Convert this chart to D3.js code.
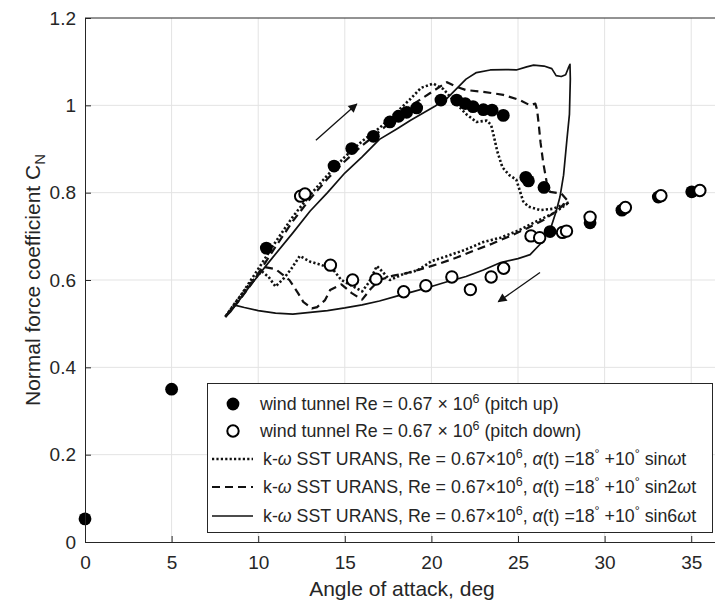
<!DOCTYPE html>
<html><head><meta charset="utf-8">
<script src="https://cdn.jsdelivr.net/npm/d3@7"></script>
<style>
body{margin:0;background:#fff}
svg{display:block}
text{font-family:"Liberation Sans",Arial,Helvetica,sans-serif;fill:#262626}
</style>
</head><body>
<svg id="chart" width="715" height="601"></svg>
<script>
// Wind tunnel measurements, pitch up (filled) and pitch down (open)
const upAlpha = [0, 5, 10.47, 14.38, 15.4, 16.65, 17.6, 18.1, 18.57, 19.15, 20.55, 21.46, 21.95, 22.4, 23.0, 23.5, 24.15, 25.45, 25.6, 26.5, 26.85, 29.16, 31.0, 33.1, 35.03];
const upCn    = [0.053, 0.35, 0.673, 0.861, 0.901, 0.929, 0.962, 0.975, 0.984, 0.994, 1.012, 1.012, 1.004, 0.997, 0.99, 0.989, 0.977, 0.835, 0.827, 0.812, 0.711, 0.731, 0.760, 0.79, 0.802];
const downAlpha = [12.45, 12.7, 14.17, 15.45, 16.8, 18.4, 19.68, 21.18, 22.25, 23.45, 24.17, 25.75, 26.25, 27.57, 27.8, 29.16, 31.2, 33.25, 35.5];
const downCn    = [0.792, 0.797, 0.634, 0.600, 0.602, 0.573, 0.587, 0.607, 0.578, 0.607, 0.627, 0.701, 0.697, 0.709, 0.712, 0.744, 0.766, 0.793, 0.805];

// k-omega SST URANS hysteresis loops, alpha(t) = 18 + 10 sin(k w t)
const sin1Alpha = [8.1, 9, 10, 11, 12, 13, 14, 15, 16, 17, 18, 18.8, 19.4, 20.1, 20.7, 21.3, 22.0, 22.6, 23.2, 23.45, 23.6, 23.8, 24.1, 24.5, 24.9, 25.1, 25.3, 25.6, 26.3, 27.0, 27.6, 27.95,
  27.5, 27.0, 26.0, 25.0, 24.0, 23.0, 22.0, 21.0, 20.0, 19.2, 18.4, 17.6, 17.2, 16.85, 16.4, 16.0, 15.5, 14.8, 14.3, 13.6, 13.0, 12.4, 11.9, 11.5, 11.0, 10.6, 10.2, 9.5, 8.8, 8.1];
const sin1Cn = [0.516, 0.565, 0.625, 0.687, 0.745, 0.795, 0.84, 0.882, 0.918, 0.948, 0.985, 1.015, 1.04, 1.05, 1.037, 1.01, 0.98, 0.962, 0.965, 0.955, 0.93, 0.895, 0.858, 0.84, 0.83, 0.805, 0.78, 0.768, 0.76, 0.763, 0.772, 0.778,
  0.765, 0.752, 0.733, 0.713, 0.697, 0.687, 0.67, 0.656, 0.643, 0.622, 0.614, 0.60, 0.618, 0.632, 0.595, 0.574, 0.585, 0.60, 0.625, 0.635, 0.642, 0.655, 0.625, 0.605, 0.585, 0.607, 0.62, 0.59, 0.555, 0.516];

const sin2Alpha = [8.1, 9, 10, 11, 12, 13, 14, 15, 16, 17, 18, 19, 20, 20.9, 21.4, 22.0, 23.0, 24.15, 25.1, 25.7, 26.0, 26.1, 26.2, 26.3, 26.45, 26.65, 26.85, 27.5, 27.85,
  27.3, 26.5, 25.5, 24.5, 23.5, 22.5, 21.5, 20.5, 19.5, 18.5, 17.8, 17.0, 16.5, 16.0, 15.4, 14.8, 14.15, 13.86, 13.4, 13.1, 12.6, 12.3, 11.8, 11.0, 10.3, 9.5, 8.8, 8.1];
const sin2Cn = [0.516, 0.558, 0.615, 0.676, 0.735, 0.786, 0.832, 0.872, 0.908, 0.94, 0.974, 1.004, 1.03, 1.053, 1.043, 1.035, 1.031, 1.024, 1.012, 1.0, 1.004, 0.99, 0.955, 0.915, 0.87, 0.825, 0.802, 0.798, 0.782,
  0.76, 0.738, 0.718, 0.70, 0.683, 0.668, 0.652, 0.638, 0.626, 0.615, 0.61, 0.60, 0.58, 0.555, 0.57, 0.59, 0.577, 0.554, 0.538, 0.535, 0.55, 0.57, 0.60, 0.625, 0.63, 0.585, 0.548, 0.516];

const sin6Alpha = [8.1, 8.4, 9.5, 10.7, 12.0, 13.0, 14.0, 15.0, 16.0, 17.0, 18.0, 18.8, 19.5, 20.2, 20.9, 21.5, 22.0, 22.6, 23.4, 24.3, 24.9, 25.5, 25.9, 26.5, 26.95, 27.2, 27.5, 27.75, 27.9, 28.0,
  28.02, 27.97, 27.82, 27.63, 27.42, 27.2, 26.9, 26.3, 25.7, 25.0, 24.0, 23.0, 22.0, 21.0, 20.0, 19.0, 18.0, 17.0, 16.0, 15.0, 14.0, 13.0, 12.0, 11.0, 10.0, 9.2, 8.7, 8.4, 8.1];
const sin6Cn = [0.515, 0.527, 0.585, 0.645, 0.708, 0.758, 0.80, 0.845, 0.882, 0.922, 0.946, 0.966, 0.982, 0.998, 1.016, 1.04, 1.06, 1.075, 1.081, 1.082, 1.081, 1.088, 1.092, 1.09, 1.084, 1.068, 1.066, 1.07, 1.085, 1.094,
  1.06, 0.98, 0.92, 0.84, 0.79, 0.757, 0.72, 0.683, 0.658, 0.649, 0.64, 0.623, 0.608, 0.597, 0.585, 0.574, 0.563, 0.552, 0.543, 0.536, 0.530, 0.526, 0.522, 0.524, 0.53, 0.537, 0.542, 0.532, 0.515];

// Direction arrows (start, end) in data units
const arrowUp   = [[13.33, 0.92], [15.69, 1.003]];
const arrowDown = [[26.27, 0.617], [23.86, 0.55]];

const xTicks = [0, 5, 10, 15, 20, 25, 30, 35];
const yTicks = [0, 0.2, 0.4, 0.6, 0.8, 1.0, 1.2];
const yTickLabels = ["0", "0.2", "0.4", "0.6", "0.8", "1", "1.2"];

const svg = d3.select("#chart");
const ink = "#262626";

const x = d3.scaleLinear().domain([0, 36.5]).range([85, 717.2]);
const y = d3.scaleLinear().domain([0, 1.2]).range([542, 18]);

// grid
const grid = svg.append("g");
grid.selectAll("line.gx").data(xTicks.slice(1)).join("line")
  .attr("x1", d => x(d)).attr("x2", d => x(d)).attr("y1", y(0)).attr("y2", y(1.2))
  .attr("stroke", "#e3e3e3").attr("stroke-width", 1);
grid.selectAll("line.gy").data(yTicks.slice(1, -1)).join("line")
  .attr("x1", x(0)).attr("x2", x(36.5)).attr("y1", d => y(d)).attr("y2", d => y(d))
  .attr("stroke", "#e3e3e3").attr("stroke-width", 1);

// simulation loops
const line = d3.line().x(d => x(d[0])).y(d => y(d[1]));
const zip = (a, b) => a.map((v, i) => [v, b[i]]);
const styles = {
  sin1: {dash: "2.2,2.2", width: 2.6},
  sin2: {dash: "8,5", width: 2.2},
  sin6: {dash: null, width: 1.7}
};
[[sin1Alpha, sin1Cn, styles.sin1], [sin2Alpha, sin2Cn, styles.sin2], [sin6Alpha, sin6Cn, styles.sin6]].forEach(([a, c, s]) => {
  svg.append("path").datum(zip(a, c)).attr("d", line)
    .attr("fill", "none").attr("stroke", "#111").attr("stroke-width", s.width)
    .attr("stroke-dasharray", s.dash).attr("stroke-linejoin", "round");
});

// measurements
svg.append("g").selectAll("circle").data(zip(upAlpha, upCn)).join("circle")
  .attr("cx", d => x(d[0])).attr("cy", d => y(d[1])).attr("r", 6.4).attr("fill", "#000");
svg.append("g").selectAll("circle").data(zip(downAlpha, downCn)).join("circle")
  .attr("cx", d => x(d[0])).attr("cy", d => y(d[1])).attr("r", 5.7)
  .attr("fill", "#fff").attr("stroke", "#000").attr("stroke-width", 2);

// arrows
svg.append("defs").append("marker").attr("id", "head")
  .attr("viewBox", "0 0 10 10").attr("refX", 9).attr("refY", 5)
  .attr("markerWidth", 11).attr("markerHeight", 9).attr("markerUnits", "userSpaceOnUse")
  .attr("orient", "auto")
  .append("path").attr("d", "M0,0L10,5L0,10Z").attr("fill", "#111");
[arrowUp, arrowDown].forEach(a => {
  svg.append("line")
    .attr("x1", x(a[0][0])).attr("y1", y(a[0][1])).attr("x2", x(a[1][0])).attr("y2", y(a[1][1]))
    .attr("stroke", "#111").attr("stroke-width", 1.3).attr("marker-end", "url(#head)");
});

// axes (ticks point inward)
const xAxis = svg.append("g").attr("transform", `translate(0,${y(0)})`)
  .call(d3.axisBottom(x).tickValues(xTicks).tickFormat(d3.format("d")).tickSizeInner(-6).tickSizeOuter(0).tickPadding(14));
const yAxis = svg.append("g").attr("transform", `translate(${x(0)},0)`)
  .call(d3.axisLeft(y).tickValues(yTicks).tickFormat((d, i) => yTickLabels[i]).tickSizeInner(-6).tickSizeOuter(0).tickPadding(9));
[xAxis, yAxis].forEach(g => {
  g.select(".domain").attr("stroke", ink).attr("stroke-width", 1);
  g.selectAll(".tick line").attr("stroke", ink);
  g.selectAll(".tick text").attr("font-size", 19).attr("fill", ink)
    .attr("font-family", '"Liberation Sans",Arial,sans-serif');
});
svg.append("line").attr("x1", x(0)).attr("x2", x(36.5)).attr("y1", y(1.2)).attr("y2", y(1.2))
  .attr("stroke", ink).attr("stroke-width", 1);
svg.append("line").attr("x1", x(36.5)).attr("x2", x(36.5)).attr("y1", y(1.2)).attr("y2", y(0))
  .attr("stroke", ink).attr("stroke-width", 1);

// axis titles
svg.append("text").attr("x", 402).attr("y", 596).attr("text-anchor", "middle")
  .attr("font-size", 21).text("Angle of attack, deg");
const yt = svg.append("text").attr("transform", "translate(40,280) rotate(-90)")
  .attr("text-anchor", "middle").attr("font-size", 21);
yt.append("tspan").text("Normal force coefficient C");
yt.append("tspan").attr("font-size", 15).attr("dy", 5).text("N");

// legend
const lg = svg.append("g");
lg.append("rect").attr("x", 207.5).attr("y", 383.5).attr("width", 505).attr("height", 149)
  .attr("fill", "#fff").attr("stroke", ink).attr("stroke-width", 1);

const sup = (t) => ({t, sup: true});
const it = (t) => ({t, it: true});
const simLabel = (k) => ["k-", it("ω"), " SST URANS, Re = 0.67×10", sup("6"), ", ", it("α"), "(t) =18", sup("°"), " +10", sup("°"), " sin" + k, it("ω"), "t"];
const legendRows = [
  {kind: "filled", y: 410, text: ["wind tunnel Re = 0.67 × 10", sup("6"), " (pitch up)"]},
  {kind: "open",   y: 437, text: ["wind tunnel Re = 0.67 × 10", sup("6"), " (pitch down)"]},
  {kind: "sin1",   y: 465, text: simLabel("")},
  {kind: "sin2",   y: 493, text: simLabel("2")},
  {kind: "sin6",   y: 522, text: simLabel("6")}
];
legendRows.forEach(r => {
  if (r.kind === "filled") {
    lg.append("circle").attr("cx", 233).attr("cy", r.y - 6).attr("r", 6.4).attr("fill", "#000");
  } else if (r.kind === "open") {
    lg.append("circle").attr("cx", 233).attr("cy", r.y - 6).attr("r", 5.7).attr("fill", "#fff")
      .attr("stroke", "#000").attr("stroke-width", 2);
  } else {
    const s = styles[r.kind];
    lg.append("line").attr("x1", 212).attr("x2", 253).attr("y1", r.y - 6).attr("y2", r.y - 6)
      .attr("stroke", "#111").attr("stroke-width", s.width).attr("stroke-dasharray", s.dash);
  }
  const tx = lg.append("text").attr("x", r.kind === "filled" || r.kind === "open" ? 260 : 263)
    .attr("y", r.y).attr("font-size", 17.8);
  let shifted = false;
  r.text.forEach(seg => {
    const o = typeof seg === "string" ? {t: seg} : seg;
    const ts = tx.append("tspan").text(o.t);
    if (o.sup) { ts.attr("dy", -7).attr("font-size", 12.5); shifted = true; }
    else if (shifted) { ts.attr("dy", 7); shifted = false; }
    if (o.it) ts.attr("font-style", "italic");
  });
});
</script>
</body></html>
